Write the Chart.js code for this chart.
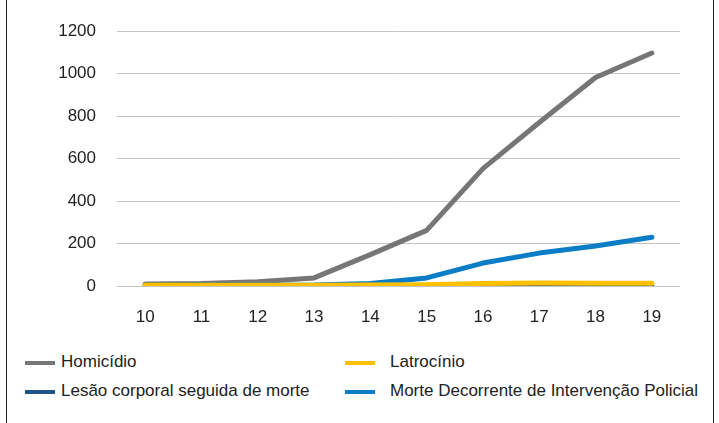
<!DOCTYPE html>
<html>
<head>
<meta charset="utf-8">
<script src="https://cdn.jsdelivr.net/npm/chart.js@4/dist/chart.umd.min.js"></script>
<style>
  html, body { margin: 0; padding: 0; background: #fff; }
  body { width: 719px; height: 423px; position: relative; overflow: hidden;
         font-family: 'Liberation Sans', Arial, sans-serif; }
  .frame { position: absolute; left: 6px; top: 0; width: 706px; height: 423px;
           border-left: 1px solid #222; border-right: 1px solid #222; }
  .plot { position: absolute; left: 0; top: 0; width: 719px; height: 335px; }
  .legend { position: absolute; left: 0; top: 0; }
  .item { position: absolute; height: 20px; font-size: 17px; line-height: 20px; color: #222; white-space: nowrap; }
  .swatch { position: absolute; width: 30px; height: 4px; }
</style>
</head>
<body>
<div class="frame"></div>
<div class="plot"><canvas id="chart"></canvas></div>
<div class="legend" id="legend"></div>
<script>
// years (two-digit)
const years = ['10', '11', '12', '13', '14', '15', '16', '17', '18', '19'];

const homicidio = [10, 12, 20, 38, 148, 262, 553, 770, 982, 1097];
const latrocinio = [3, 3, 4, 4, 5, 6, 12, 14, 13, 13];
const lesaoCorporal = [1, 1, 1, 1, 1, 1, 2, 2, 2, 3];
const morteIntervencao = [2, 3, 4, 5, 12, 38, 108, 155, 188, 230];

const yTicks = [0, 200, 400, 600, 800, 1000, 1200];

const series = [
  { label: 'Homicídio', data: homicidio, color: '#767676', order: 3, col: 0, row: 0 },
  { label: 'Latrocínio', data: latrocinio, color: '#FFC000', order: 0, col: 1, row: 0 },
  { label: 'Lesão corporal seguida de morte', data: lesaoCorporal, color: '#1F5486', order: 2, col: 0, row: 1 },
  { label: 'Morte Decorrente de Intervenção Policial', data: morteIntervencao, color: '#0A7DC6', order: 1, col: 1, row: 1 }
];

const fontFamily = "'Liberation Sans', Arial, sans-serif";

new Chart(document.getElementById('chart'), {
  type: 'line',
  data: {
    labels: years,
    datasets: series.map(s => ({
      label: s.label,
      data: s.data,
      borderColor: s.color,
      backgroundColor: s.color,
      borderWidth: 5,
      pointRadius: 0,
      tension: 0,
      borderCapStyle: 'round',
      borderJoinStyle: 'round',
      order: s.order
    }))
  },
  options: {
    responsive: true,
    maintainAspectRatio: false,
    animation: false,
    layout: { padding: { top: 31, right: 39, left: 0, bottom: 0 } },
    plugins: { legend: { display: false }, tooltip: { enabled: false } },
    scales: {
      x: {
        offset: true,
        grid: { display: false, drawTicks: false },
        border: { display: false },
        ticks: { padding: 21, color: '#222', font: { family: fontFamily, size: 17 } },
        afterFit: scale => { scale.height = 49; }
      },
      y: {
        min: 0,
        max: 1200,
        afterBuildTicks: scale => { scale.ticks = yTicks.map(v => ({ value: v })); },
        grid: { color: '#c4c4c4', lineWidth: 1, drawTicks: false },
        border: { display: false },
        ticks: { padding: 21, color: '#222', font: { family: fontFamily, size: 17 },
                 callback: v => String(v) },
        afterFit: scale => { scale.width = 117; }
      }
    }
  }
});

// legend in two columns
const colX = [25, 345];
const textX = [61, 390];
const rowY = [363, 392];
const legend = document.getElementById('legend');
series.forEach(s => {
  const sw = document.createElement('div');
  sw.className = 'swatch';
  sw.style.background = s.color;
  sw.style.left = colX[s.col] + 'px';
  sw.style.top = (rowY[s.row] - 2) + 'px';
  const txt = document.createElement('div');
  txt.className = 'item';
  txt.style.left = textX[s.col] + 'px';
  txt.style.top = (rowY[s.row] - 11) + 'px';
  txt.textContent = s.label;
  legend.appendChild(sw);
  legend.appendChild(txt);
});
</script>
</body>
</html>
